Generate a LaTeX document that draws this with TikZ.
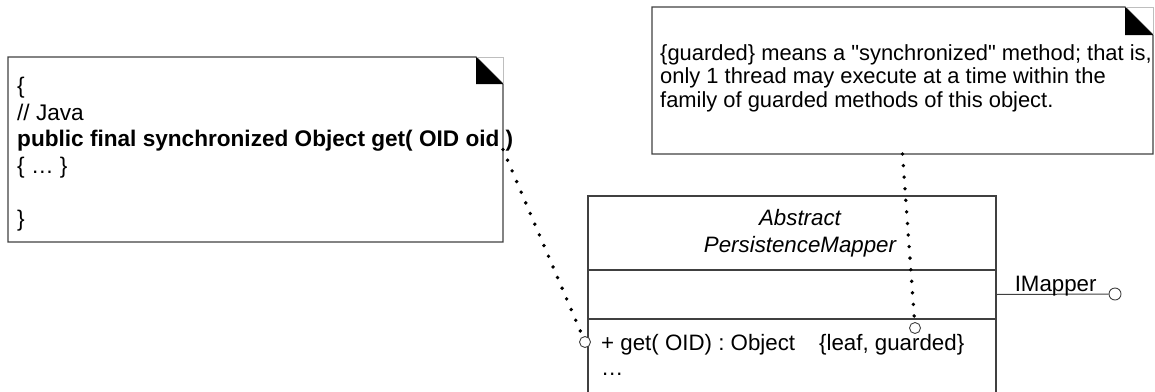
\documentclass[tikz,border=0pt]{standalone}
\usepackage{fontspec}
\setmainfont{Liberation Sans}
\newfontfamily\roseface{Liberation Sans}
\usepackage{tikz}
\usetikzlibrary{positioning}
\definecolor{RoseLine}{RGB}{64,64,64}
\definecolor{RoseFold}{RGB}{190,190,190}
\newcommand{\umlfont}{\roseface\fontsize{22.3}{26.6}\selectfont}

\begin{document}
\begin{tikzpicture}[x=1pt, y=-1pt,
          notebox/.style={rectangle, anchor=north west, inner sep=0pt, outer sep=0pt},
          notetext/.style={anchor=north west, align=left, inner sep=0pt, font=\umlfont},
          compart/.style={rectangle, draw=RoseLine, line width=1.2pt, minimum width=408pt,
                          inner sep=0pt, outer sep=0pt},
          umltext/.style={inner sep=0pt, font=\umlfont},
          lolly/.style={circle, draw=RoseLine, fill=white, line width=0.9pt,
                        minimum size=11pt, inner sep=0pt},
          dotlink/.style={line width=3.8pt, line cap=round, dash pattern=on 0pt off 11.6pt},
          outline/.style={draw=RoseLine, line width=1.2pt},
          fold/.style={draw=RoseFold, line width=1pt}
        ]
        \useasboundingbox (0,0) rectangle (1155,391);

        % Java note
        \node[notebox, minimum width=495pt, minimum height=185pt] (codenote) at (8,57) {};
        \draw[outline] (codenote.north west) -- ([xshift=-27pt]codenote.north east)
              -- ([yshift=-27pt]codenote.north east) -- (codenote.south east)
              -- (codenote.south west) -- cycle;
        \draw[fold] ([xshift=-27pt]codenote.north east) -- (codenote.north east)
              -- ([yshift=-27pt]codenote.north east);
        \fill ([xshift=-27pt]codenote.north east) -- ([xshift=-27pt, yshift=-27pt]codenote.north east)
              -- ([yshift=-27pt]codenote.north east) -- cycle;
        \node[notetext, font=\roseface\fontsize{22.6}{26.6}\selectfont] (codetext) at (17,77)
              {\{\\// Java\\\textbf{public final synchronized Object get( OID oid )}\\\{ … \}\\\mbox{}\\\}};

        % guarded note
        \node[notebox, minimum width=501pt, minimum height=147pt] (guardnote) at (652,7) {};
        \draw[outline] (guardnote.north west) -- ([xshift=-28pt]guardnote.north east)
              -- ([yshift=-28pt]guardnote.north east) -- (guardnote.south east)
              -- (guardnote.south west) -- cycle;
        \draw[fold] ([xshift=-28pt]guardnote.north east) -- (guardnote.north east)
              -- ([yshift=-28pt]guardnote.north east);
        \fill ([xshift=-28pt]guardnote.north east) -- ([xshift=-28pt, yshift=-28pt]guardnote.north east)
              -- ([yshift=-28pt]guardnote.north east) -- cycle;
        \node[notetext, font=\roseface\fontsize{21.9}{23.5}\selectfont] (guardtext) at (660,44)
              {\{guarded\} means a "synchronized" method; that is,\\only 1 thread may execute at a time within the\\family of guarded methods of this object.};

        % Class
        \node[compart, minimum height=74pt, anchor=north west] (classname) at (588,196) {};
        \node[compart, minimum height=49pt, below=0pt of classname] (classattr) {};
        \node[compart, minimum height=81pt, below=0pt of classattr] (classops) {};
        \node[umltext, align=center, font=\umlfont\itshape] (classtitle) at (800,233)
              {Abstract\\PersistenceMapper};
        \node[umltext, anchor=base west] (getop) at (601,350)
              {+ get( OID) : Object\hspace{24pt}\{leaf, guarded\}};
        \node[umltext, anchor=base west] (moreops) at (601,375) {…};

        % Interface lollipop
        \node[lolly, minimum size=12pt] (ifaceend) at (1115,294) {};
        \draw[draw=RoseLine, line width=1pt] (classattr.east) --
              node[umltext, pos=0.53, anchor=base, yshift=3pt] {IMapper} (ifaceend);

        % Note links
        \node[lolly] (getend) at (585,342) {};
        \node[lolly] (guardend) at (915,328) {};
        \draw[dotlink] (codenote.east) -- (getend);
        \draw[dotlink] (guardnote.south) -- (guardend);
      \end{tikzpicture}
\end{document}
